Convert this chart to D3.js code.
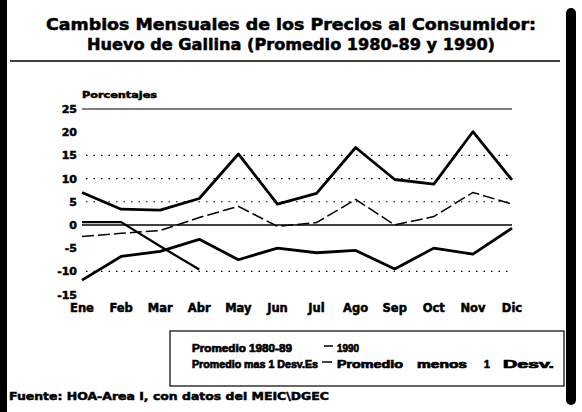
<!DOCTYPE html>
<html>
<head>
<meta charset="utf-8">
<script src="https://cdn.jsdelivr.net/npm/d3@7"></script>
<style>
  body { margin: 0; background: #fff; }
  svg { display: block; }
  text { font-family: "DejaVu Sans", "Liberation Sans", sans-serif; font-weight: bold; fill: #000; }
  .heavy { stroke: #000; stroke-width: 0.5px; }
  .legend { font-family: "Liberation Sans", Arial, sans-serif; stroke: #000; stroke-width: 0.7px; }
</style>
</head>
<body>
<svg id="chart" width="582" height="412"></svg>
<script>
// Monthly changes in consumer prices for eggs (1980-89 average and 1990).

var months = ["Ene", "Feb", "Mar", "Abr", "May", "Jun", "Jul", "Ago", "Sep", "Oct", "Nov", "Dic"];
var promedio = [-2.5, -1.8, -1.2, 1.6, 4.0, -0.3, 0.5, 5.5, 0.0, 1.8, 7.0, 4.5];
var masDesv = [7.0, 3.4, 3.2, 5.7, 15.3, 4.5, 6.8, 16.7, 9.8, 8.8, 20.1, 9.7];
var menosDesv = [-11.9, -6.8, -5.7, -3.1, -7.5, -5.0, -6.0, -5.5, -9.5, -5.0, -6.3, -0.7];
var anio1990 = [0.6, 0.6, -4.6, -9.6];
var yTicks = [25, 20, 15, 10, 5, 0, -5, -10, -15];
var dottedGrid = [15, 10, 5, -10];

var svg = d3.select("#chart");

var x = d3.scalePoint().domain(months).range([82, 512]);
var y = d3.scaleLinear().domain([-15, 25]).range([294.5, 109]);

// Frame bars
svg.append("rect").attr("x", 0).attr("y", 0).attr("width", 7).attr("height", 412).attr("fill", "#000");
svg.append("rect").attr("x", 566).attr("y", 8).attr("width", 10).attr("height", 397).attr("rx", 5).attr("fill", "#000");

// Title
svg.append("text").attr("class", "heavy").attr("x", 291).attr("y", 30)
    .attr("text-anchor", "middle").attr("font-size", 15)
    .attr("textLength", 490).attr("lengthAdjust", "spacingAndGlyphs")
    .text("Cambios Mensuales de los Precios al Consumidor:");
svg.append("text").attr("class", "heavy").attr("x", 291).attr("y", 50)
    .attr("text-anchor", "middle").attr("font-size", 15)
    .attr("textLength", 408).attr("lengthAdjust", "spacingAndGlyphs")
    .text("Huevo de Gallina (Promedio 1980-89 y 1990)");
svg.append("line").attr("x1", 10).attr("x2", 560).attr("y1", 61).attr("y2", 61)
    .attr("stroke", "#000").attr("stroke-width", 1.3);

// Y axis label
svg.append("text").attr("class", "heavy").attr("x", 82).attr("y", 98)
    .attr("font-size", 8.5).attr("textLength", 75).attr("lengthAdjust", "spacingAndGlyphs")
    .text("Porcentajes");

// Grid lines
svg.append("line").attr("x1", x("Ene")).attr("x2", x("Dic")).attr("y1", y(25)).attr("y2", y(25))
    .attr("stroke", "#000").attr("stroke-width", 1.2);
svg.selectAll(".grid").data(dottedGrid).enter().append("line")
    .attr("class", "grid")
    .attr("x1", x("Ene") + 4).attr("x2", x("Dic"))
    .attr("y1", function (d) { return y(d); }).attr("y2", function (d) { return y(d); })
    .attr("stroke", "#000").attr("stroke-width", 1.2).attr("stroke-dasharray", "1.5 6");
svg.append("line").attr("x1", x("Ene")).attr("x2", x("Dic")).attr("y1", y(0)).attr("y2", y(0))
    .attr("stroke", "#000").attr("stroke-width", 1.5);

// Y tick labels
svg.selectAll(".ytick").data(yTicks).enter().append("text")
    .attr("class", "ytick heavy")
    .attr("x", 77).attr("y", function (d) { return y(d) + 4; })
    .attr("text-anchor", "end").attr("font-size", 11)
    .text(function (d) { return d; });

// Month labels
svg.selectAll(".xtick").data(months).enter().append("text")
    .attr("class", "xtick heavy")
    .attr("x", function (d) { return x(d); }).attr("y", 312)
    .attr("text-anchor", "middle").attr("font-size", 11.5)
    .text(function (d) { return d; });

// Series lines
var line = d3.line()
    .x(function (d, i) { return x(months[i]); })
    .y(function (d) { return y(d); });

svg.append("path").datum(masDesv).attr("d", line)
    .attr("fill", "none").attr("stroke", "#000").attr("stroke-width", 2.8).attr("stroke-linejoin", "round");
svg.append("path").datum(menosDesv).attr("d", line)
    .attr("fill", "none").attr("stroke", "#000").attr("stroke-width", 2.8).attr("stroke-linejoin", "round");
svg.append("path").datum(promedio).attr("d", line)
    .attr("fill", "none").attr("stroke", "#000").attr("stroke-width", 1.5).attr("stroke-dasharray", "12 4");
svg.append("path").datum(anio1990).attr("d", line)
    .attr("fill", "none").attr("stroke", "#000").attr("stroke-width", 2.2);

// Legend
svg.append("rect").attr("x", 170).attr("y", 331).attr("width", 394).attr("height", 55)
    .attr("fill", "none").attr("stroke", "#000").attr("stroke-width", 1.2);
svg.append("text").attr("class", "legend").attr("x", 192).attr("y", 352)
    .attr("font-size", 10.5).attr("textLength", 100).attr("lengthAdjust", "spacingAndGlyphs")
    .text("Promedio 1980-89");
svg.append("line").attr("x1", 324).attr("x2", 333).attr("y1", 346).attr("y2", 346)
    .attr("stroke", "#000").attr("stroke-width", 1.5);
svg.append("text").attr("class", "legend").attr("x", 337).attr("y", 352)
    .attr("font-size", 10.5).attr("textLength", 22).attr("lengthAdjust", "spacingAndGlyphs")
    .text("1990");
svg.append("text").attr("class", "legend").attr("x", 192).attr("y", 368)
    .attr("font-size", 10.5).attr("textLength", 126).attr("lengthAdjust", "spacingAndGlyphs")
    .text("Promedio mas 1 Desv.Es");
svg.append("line").attr("x1", 322).attr("x2", 332).attr("y1", 362).attr("y2", 362)
    .attr("stroke", "#000").attr("stroke-width", 1.5);
var menosText = svg.append("text").attr("class", "legend").attr("y", 368).attr("font-size", 10.5);
menosText.append("tspan").attr("x", 337).attr("textLength", 66).attr("lengthAdjust", "spacingAndGlyphs").text("Promedio");
menosText.append("tspan").attr("x", 417).attr("textLength", 50).attr("lengthAdjust", "spacingAndGlyphs").text("menos");
menosText.append("tspan").attr("x", 484).text("1");
menosText.append("tspan").attr("x", 503).attr("textLength", 51).attr("lengthAdjust", "spacingAndGlyphs").text("Desv.");

// Source
svg.append("text").attr("class", "heavy").attr("x", 9).attr("y", 400)
    .attr("font-size", 10.5).attr("textLength", 320).attr("lengthAdjust", "spacingAndGlyphs")
    .text("Fuente: HOA-Area I, con datos del MEIC\\DGEC");
</script>
</body>
</html>
